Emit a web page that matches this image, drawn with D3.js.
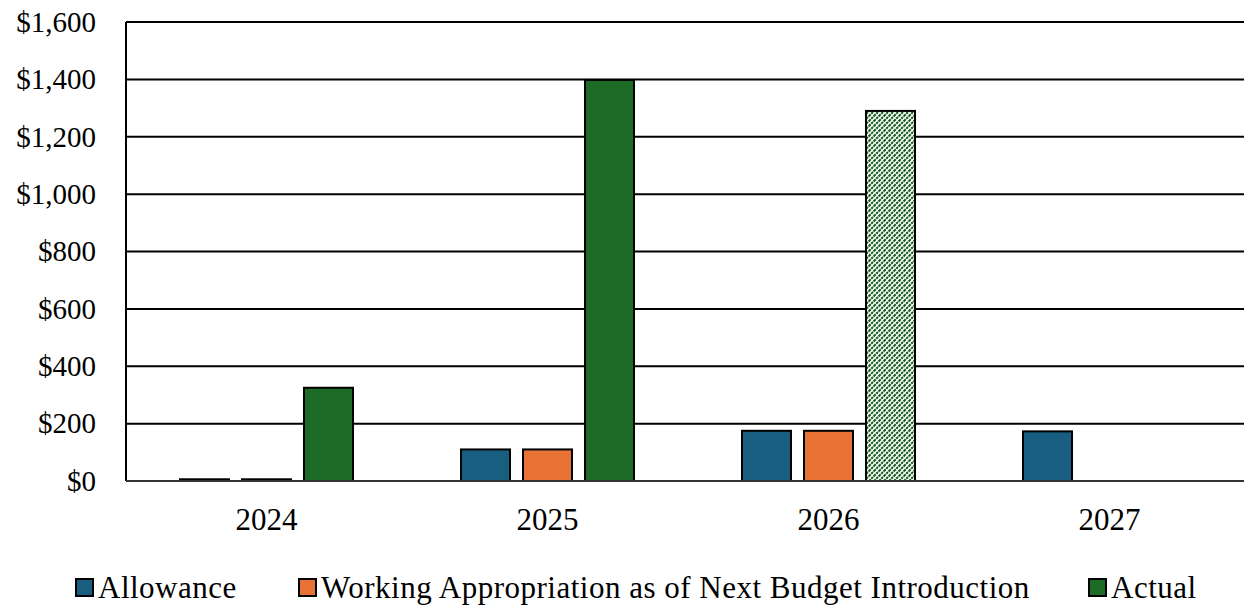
<!DOCTYPE html>
<html>
<head>
<meta charset="utf-8">
<script src="https://cdn.jsdelivr.net/npm/d3@7"></script>
<style>
  html, body { margin: 0; padding: 0; background: #fff; }
  svg { display: block; font-family: "Liberation Serif", "Times New Roman", serif; }
</style>
</head>
<body>
<svg id="chart" width="1244" height="605"></svg>
<script>
// Fiscal years on the x axis
const years = ["2024", "2025", "2026", "2027"];
// Series names, in legend / bar order
const seriesNames = ["Allowance", "Working Appropriation as of Next Budget Introduction", "Actual"];
// Values in $ thousands (null = no bar)
const allowance = [6, 110, 175, 173];
const workingAppropriation = [6, 110, 175, null];
const actual = [325, 1398, 1290, null];
// Years whose "Actual" value is an estimate (drawn hatched)
const estimatedActual = [false, false, true, false];
// Y axis ticks
const yTicks = [0, 200, 400, 600, 800, 1000, 1200, 1400, 1600];

const colors = ["#185E80", "#E97334", "#1C6B27"];
const serif = "Liberation Serif, Times New Roman, serif";

const svg = d3.select("#chart");
const margin = { left: 126, top: 22, bottom: 481 };
const plotRight = 1250;

const x0 = d3.scaleBand().domain(years).range([margin.left, plotRight]).padding(0);
const x1 = d3.scaleBand().domain(seriesNames).range([0, 173]).paddingInner(13 / 62).paddingOuter(0);
const y = d3.scaleLinear().domain([0, 1600]).range([margin.bottom, margin.top]);

// Hatch pattern for estimated values
const defs = svg.append("defs");
const pat = defs.append("pattern")
  .attr("id", "hatch")
  .attr("patternUnits", "userSpaceOnUse")
  .attr("width", 5).attr("height", 5);
pat.append("rect").attr("width", 5).attr("height", 5).attr("fill", "#fff");
pat.append("path")
  .attr("d", "M-1,6 L6,-1 M-1,1 L1,-1 M4,6 L6,4")
  .attr("stroke", "#145c1c")
  .attr("stroke-width", 2)
  .attr("stroke-dasharray", "2.4,0.8");

// Gridlines
svg.append("g")
  .attr("class", "grid")
  .selectAll("line")
  .data(yTicks.filter(d => d > 0))
  .join("line")
  .attr("x1", margin.left).attr("x2", 1244)
  .attr("y1", d => y(d)).attr("y2", d => y(d))
  .attr("stroke", "#000").attr("stroke-width", 2);

// Y axis labels + axis line
const yAxis = d3.axisLeft(y).tickValues(yTicks).tickSize(0).tickPadding(30)
  .tickFormat(d => "$" + d3.format(",")(d));
const gy = svg.append("g").attr("transform", `translate(${margin.left},0)`).call(yAxis);
gy.select(".domain").remove();
gy.selectAll("text").attr("font-size", 29).attr("fill", "#000").attr("font-family", serif);
svg.append("line")
  .attr("x1", margin.left).attr("x2", margin.left)
  .attr("y1", y(1600)).attr("y2", y(0))
  .attr("stroke", "#000").attr("stroke-width", 2);

// Bars
const seriesData = [allowance, workingAppropriation, actual];
const rows = [];
years.forEach((yr, i) => {
  seriesData.forEach((arr, s) => {
    if (arr[i] != null) rows.push({ year: yr, series: s, value: arr[i], est: s === 2 && estimatedActual[i] });
  });
});

const groupOffset = (x0.bandwidth() - 173) / 2;
svg.append("g").selectAll("rect")
  .data(rows)
  .join("rect")
  .attr("x", d => x0(d.year) + groupOffset + x1(seriesNames[d.series]))
  .attr("y", d => y(d.value))
  .attr("width", x1.bandwidth())
  .attr("height", d => y(0) - y(d.value))
  .attr("fill", d => d.est ? "url(#hatch)" : colors[d.series])
  .attr("stroke", "#000")
  .attr("stroke-width", 2);

// Baseline
svg.append("line")
  .attr("x1", margin.left).attr("x2", 1244)
  .attr("y1", y(0)).attr("y2", y(0))
  .attr("stroke", "#333").attr("stroke-width", 2);

// X axis labels
const xAxis = d3.axisBottom(x0).tickSize(0).tickPadding(27);
const gx = svg.append("g").attr("transform", `translate(0,${y(0)})`).call(xAxis);
gx.select(".domain").remove();
gx.selectAll("text").attr("font-size", 31).attr("fill", "#000").attr("font-family", serif);

// Legend
const legendX = [76, 299, 1089];
const legend = svg.append("g");
seriesNames.forEach((name, i) => {
  const g = legend.append("g").attr("transform", `translate(${legendX[i]},579)`);
  g.append("rect").attr("width", 17).attr("height", 17)
    .attr("fill", colors[i]).attr("stroke", "#000").attr("stroke-width", 2);
  g.append("text").attr("x", 22).attr("y", 8).attr("dy", "0.35em")
    .attr("font-size", 31).attr("letter-spacing", 0.5)
    .attr("fill", "#000").attr("font-family", serif).text(name);
});
</script>
</body>
</html>
